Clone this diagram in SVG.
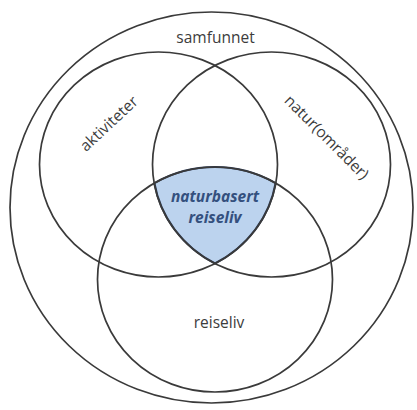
<svg xmlns="http://www.w3.org/2000/svg" width="417" height="410" viewBox="0 0 417 410">
  <style>
    .ring { fill: none; stroke: #3a3a3a; stroke-width: 1.7; }
    .lbl { font-family: "Open Sans", "Liberation Sans", sans-serif; font-size: 15.5px; fill: #3c3c3c; text-anchor: middle; }
    .core { font-family: "Open Sans", "Liberation Sans", sans-serif; font-size: 15.5px; font-weight: bold; font-style: italic; fill: #34507e; text-anchor: middle; }
  </style>
  <rect width="417" height="410" fill="#ffffff"/>
  <g id="samfunnet">
    <ellipse class="ring" cx="211.5" cy="207.5" rx="201.5" ry="195.5"/>
    <text class="lbl" x="215.5" y="43">samfunnet</text>
  </g>
  <g id="naturbasert-reiseliv">
    <path d="M154.4,183 A117.5,112.5 0 0 1 275.6,183 A119,112.5 0 0 1 215,263.5 A119,112.5 0 0 1 154.4,183 Z" fill="#bcd3ee" stroke="#2c3a55" stroke-width="2"/>
    <text class="core" x="215" y="202">naturbasert</text>
    <text class="core" x="215" y="223">reiseliv</text>
  </g>
  <g id="aktiviteter">
    <ellipse class="ring" cx="158.5" cy="164.5" rx="119" ry="112.5"/>
    <text class="lbl" transform="translate(112.5,127.5) rotate(-43)" x="0" y="0">aktiviteter</text>
  </g>
  <g id="naturomrader">
    <ellipse class="ring" cx="271.5" cy="164.5" rx="119" ry="112.5"/>
    <text class="lbl" transform="translate(323,141) rotate(45)" x="0" y="0">natur(områder)</text>
  </g>
  <g id="reiseliv">
    <ellipse class="ring" cx="215" cy="279.5" rx="117.5" ry="112.5"/>
    <text class="lbl" x="219" y="328">reiseliv</text>
  </g>
  <g id="connectors"></g>
</svg>
